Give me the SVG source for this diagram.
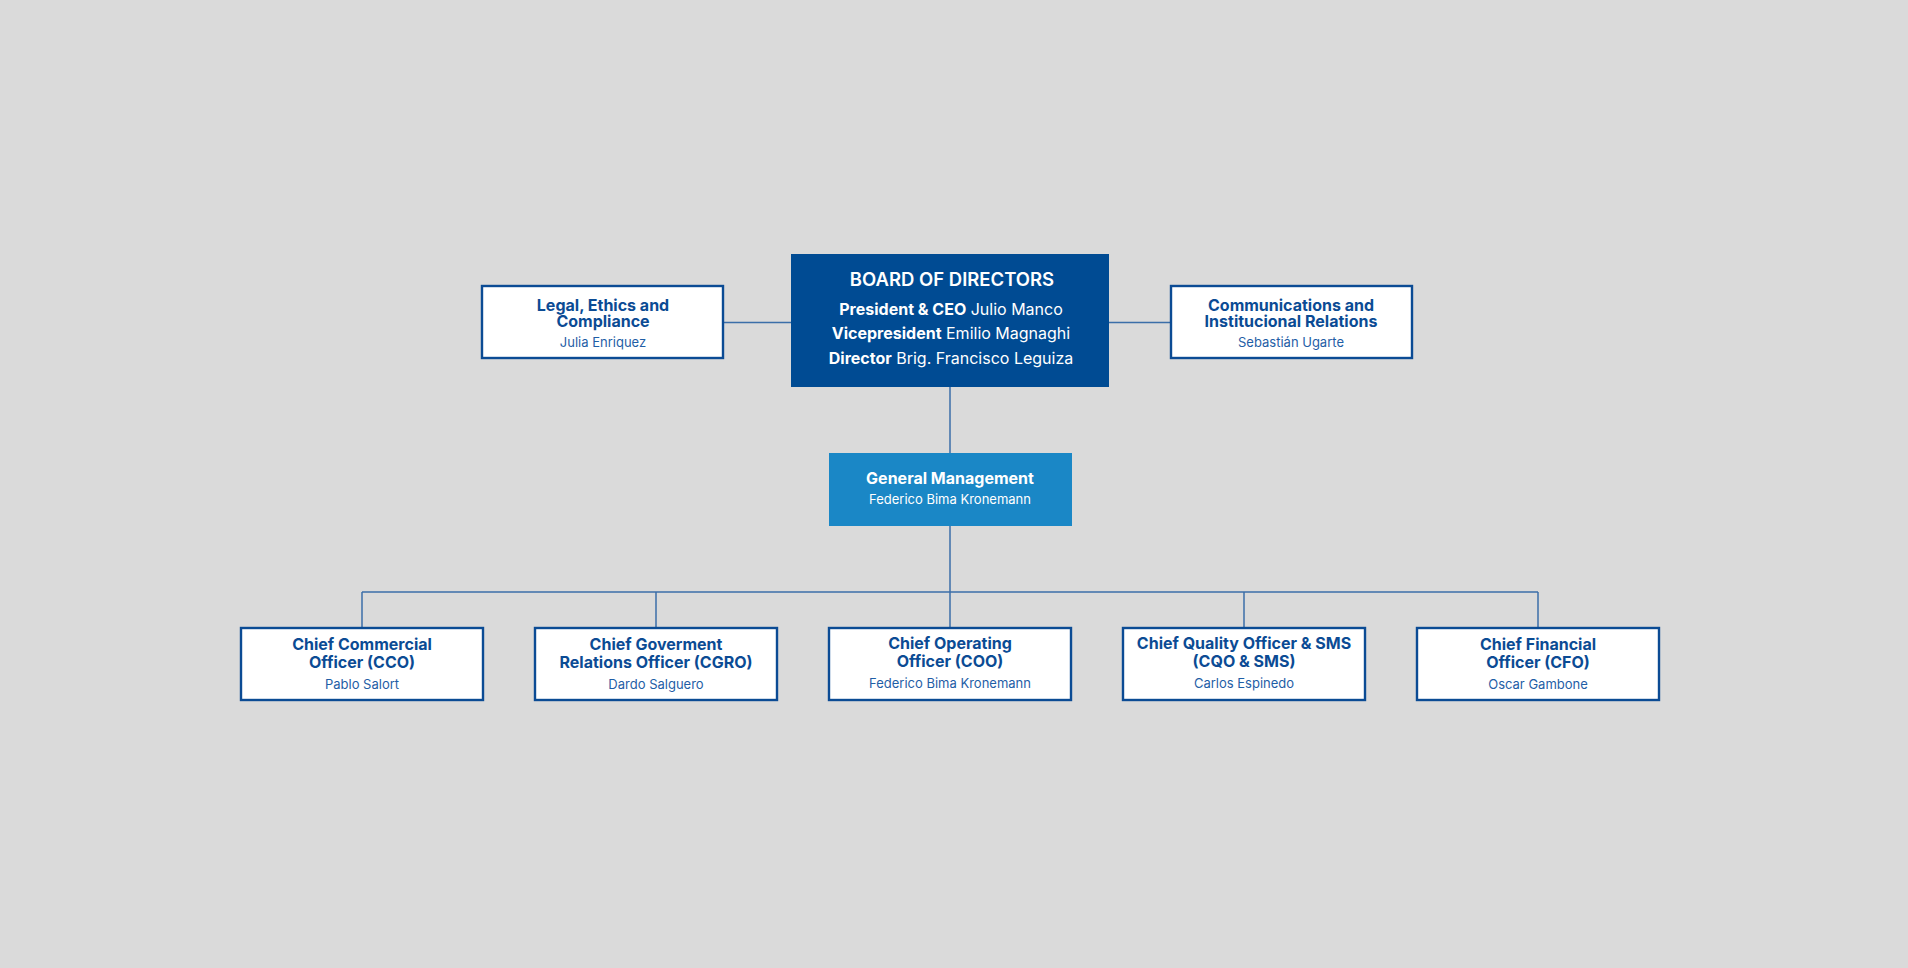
<svg xmlns="http://www.w3.org/2000/svg" width="1908" height="968" viewBox="0 0 1908 968">
<style>
.bg{fill:#dadada}
.box{fill:#ffffff;stroke:#0b4b94;stroke-width:2.4}
.t{font-family:Inter,Roboto,"Liberation Sans",sans-serif;text-anchor:middle}
.tb{font-weight:700;font-size:16px;fill:#0b4b94}
.tn{font-weight:400;font-size:13px;fill:#1f5ea6}
.w{fill:#ffffff}
.conn{stroke:#3b6ea8;stroke-width:1.5;fill:none}
</style>
<rect class="bg" x="0" y="0" width="1908" height="968"/>
<g id="connectors">
<line class="conn" x1="724" y1="322.5" x2="791" y2="322.5"/>
<line class="conn" x1="1109" y1="322.5" x2="1170" y2="322.5"/>
<line class="conn" x1="950" y1="387" x2="950" y2="453"/>
<line class="conn" x1="950" y1="526" x2="950" y2="627"/>
<line class="conn" x1="362" y1="592" x2="1538" y2="592"/>
<line class="conn" x1="362" y1="592" x2="362" y2="627"/>
<line class="conn" x1="656" y1="592" x2="656" y2="627"/>
<line class="conn" x1="1244" y1="592" x2="1244" y2="627"/>
<line class="conn" x1="1538" y1="592" x2="1538" y2="627"/>
</g>
<g id="board">
<rect x="791" y="254" width="318" height="133" fill="#004b93"/>
<text class="t w" x="952" y="286" font-size="18.5" font-weight="600">BOARD OF DIRECTORS</text>
<text class="t w" x="951" y="315" font-size="16"><tspan font-weight="700">President &amp; CEO</tspan> Julio Manco</text>
<text class="t w" x="951" y="339" font-size="16"><tspan font-weight="700">Vicepresident</tspan> Emilio Magnaghi</text>
<text class="t w" x="951" y="364" font-size="16"><tspan font-weight="700">Director</tspan> Brig. Francisco Leguiza</text>
</g>
<g id="legal">
<rect class="box" x="482" y="286" width="241" height="72"/>
<text class="t tb" x="603" y="310.5">Legal, Ethics and</text>
<text class="t tb" x="603" y="327">Compliance</text>
<text class="t tn" x="603" y="347">Julia Enriquez</text>
</g>
<g id="comms">
<rect class="box" x="1171" y="286" width="241" height="72"/>
<text class="t tb" x="1291" y="310.5">Communications and</text>
<text class="t tb" x="1291" y="327">Institucional Relations</text>
<text class="t tn" x="1291" y="347">Sebastián Ugarte</text>
</g>
<g id="gm">
<rect x="829" y="453" width="243" height="73" fill="#1a87c6"/>
<text class="t w" x="950" y="484" font-size="16" font-weight="700">General Management</text>
<text class="t w" x="950" y="504" font-size="13">Federico Bima Kronemann</text>
</g>
<g id="cco">
<rect class="box" x="241" y="628" width="242" height="72"/>
<text class="t tb" x="362" y="650">Chief Commercial</text>
<text class="t tb" x="362" y="668">Officer (CCO)</text>
<text class="t tn" x="362" y="689">Pablo Salort</text>
</g>
<g id="cgro">
<rect class="box" x="535" y="628" width="242" height="72"/>
<text class="t tb" x="656" y="650">Chief Goverment</text>
<text class="t tb" x="656" y="668">Relations Officer (CGRO)</text>
<text class="t tn" x="656" y="689">Dardo Salguero</text>
</g>
<g id="coo">
<rect class="box" x="829" y="628" width="242" height="72"/>
<text class="t tb" x="950" y="649">Chief Operating</text>
<text class="t tb" x="950" y="667">Officer (COO)</text>
<text class="t tn" x="950" y="688">Federico Bima Kronemann</text>
</g>
<g id="cqo">
<rect class="box" x="1123" y="628" width="242" height="72"/>
<text class="t tb" x="1244" y="649">Chief Quality Officer &amp; SMS</text>
<text class="t tb" x="1244" y="667">(CQO &amp; SMS)</text>
<text class="t tn" x="1244" y="688">Carlos Espinedo</text>
</g>
<g id="cfo">
<rect class="box" x="1417" y="628" width="242" height="72"/>
<text class="t tb" x="1538" y="650">Chief Financial</text>
<text class="t tb" x="1538" y="668">Officer (CFO)</text>
<text class="t tn" x="1538" y="689">Oscar Gambone</text>
</g>
</svg>
